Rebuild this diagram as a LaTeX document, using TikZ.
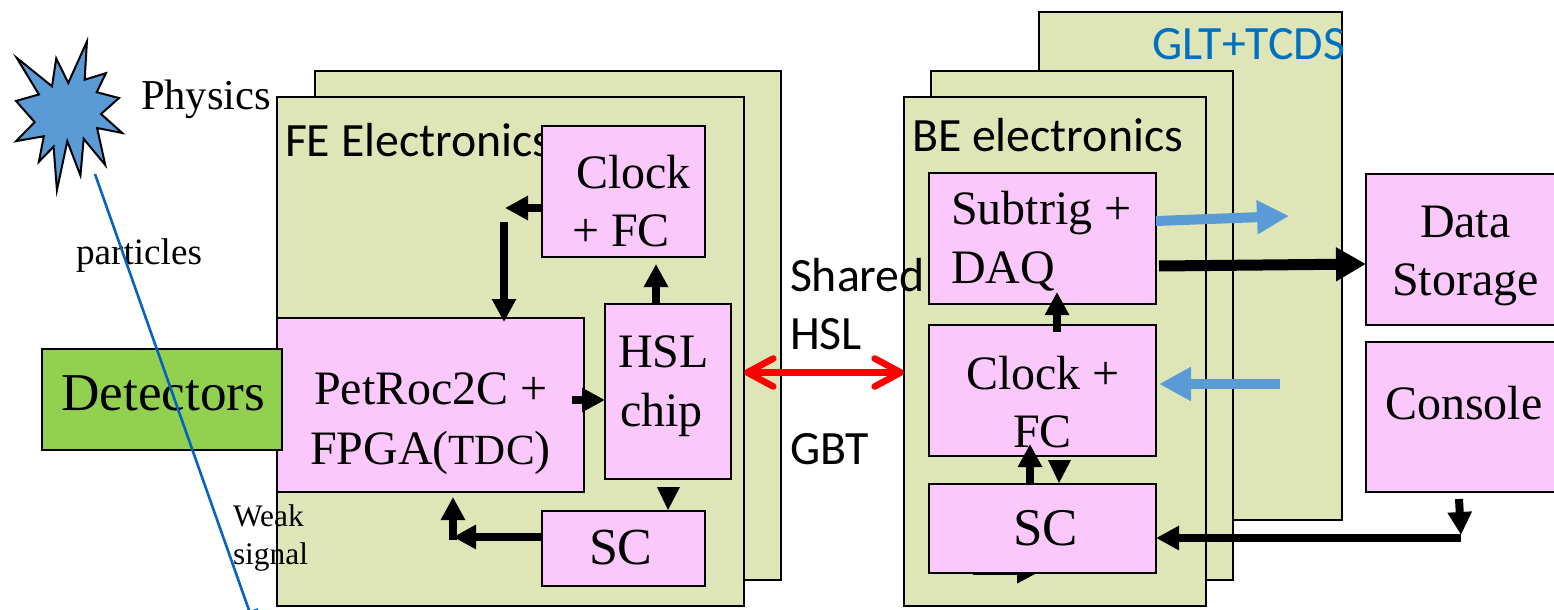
\documentclass[tikz,border=0pt]{standalone}
\usepackage{fontspec}
\setmainfont{Liberation Serif}
\newfontfamily\calfont{Carlito}
\usetikzlibrary{arrows.meta}
\definecolor{panelgreen}{HTML}{DEE6B8}
\definecolor{boxpink}{HTML}{FAC8FA}
\definecolor{detgreen}{HTML}{92D050}
\definecolor{starblue}{HTML}{5B9BD5}
\definecolor{linkblue}{HTML}{0563C1}
\definecolor{titleblue}{HTML}{0070C0}
\newcommand{\pxfont}[1]{\fontsize{#1}{#1}\selectfont}
% name, style, x1, y1, x2, y2
\newcommand{\pbox}[6]{%
  \pgfmathsetmacro{\cx}{(#3+#5)/2}\pgfmathsetmacro{\cy}{(#4+#6)/2}%
  \pgfmathsetmacro{\bw}{(#5-#3)*0.5}\pgfmathsetmacro{\bh}{(#6-#4)*0.5}%
  \node[#2,minimum width=\bw pt,minimum height=\bh pt] (#1) at (\cx,\cy) {};}
\tikzset{
  x=0.5pt,y=-0.5pt,
  outl/.style={draw=black,line width=1pt,inner sep=0pt,outer sep=0pt,rectangle},
  panel/.style={outl,fill=panelgreen},
  pinkbox/.style={outl,fill=boxpink},
  detbox/.style={outl,fill=detgreen},
  txt/.style={inner sep=0pt,outer sep=0pt,align=center,text=black},
  blk/.style={draw=black,line width=4pt,-{Triangle[length=11.5pt,width=11.5pt]}},
  tiponly/.style={fill=black,draw=none},
  bluearr/.style={draw=starblue,line width=5pt,-{Triangle[length=16pt,width=16pt]}},
  bigblk/.style={draw=black,line width=5.5pt,-{Triangle[length=15pt,width=16pt]}},
  redarr/.style={draw=red,line width=3.3pt,{Straight Barb[length=13pt,width=14pt,round]}-{Straight Barb[length=13pt,width=14pt,round]}},
  thin link/.style={draw=linkblue,line width=1.3pt,-{Triangle[length=10pt,width=9pt]}},
}
\begin{document}
\begin{tikzpicture}
\useasboundingbox (0,0) rectangle (1554,610);
\clip (0,0) rectangle (1554,610);
% panels
\pbox{beback}{panel}{1039}{12}{1342}{520}
\pbox{feback}{panel}{315}{71}{781}{580}
\pbox{bemid}{panel}{931}{71}{1233}{580}
\pbox{fe}{panel}{277}{97}{744}{606}
\pbox{be}{panel}{904}{97}{1206}{606}
\node[txt,anchor=base west,font=\calfont\pxfont{23.9}] (glt) at (1152,60) {\textcolor{titleblue}{GLT+TCDS}};
\node[txt,anchor=base west,font=\calfont\pxfont{23.9}] (fet) at (285,156) {FE Electronics};
\node[txt,anchor=base west,font=\calfont\pxfont{23.9}] (bet) at (912,152) {BE electronics};
% arrow hidden below BE SC
\coordinate (hiddenA) at (973,573);
\coordinate (hiddenB) at (1037,573);
\draw[draw=black,line width=2pt,-{Triangle[length=10pt,width=10pt]}] (hiddenA) -- (hiddenB);
% boxes
\pbox{clockfe}{pinkbox}{542}{126}{705}{257}
\pbox{hsl}{pinkbox}{605}{304}{731}{479}
\pbox{pet}{pinkbox}{277}{318}{584}{492}
\pbox{scfe}{pinkbox}{542}{511}{705}{586}
\pbox{det}{detbox}{42}{349}{282}{450}
\pbox{sub}{pinkbox}{929}{173}{1156}{304}
\pbox{clockbe}{pinkbox}{929}{325}{1156}{456}
\pbox{scbe}{pinkbox}{929}{484}{1156}{573}
\pbox{data}{pinkbox}{1366}{174}{1570}{325}
\pbox{cons}{pinkbox}{1366}{342}{1570}{492}
% star
\begin{scope}[shift={(68,115)},scale=0.98,shift={(-68,-115)}]
\draw[fill=starblue,draw=black,line width=1pt] (87.3,40) -- (85,79) -- (106.7,72.3) -- (97.3,91.7) -- (120,97.7) -- (101.7,114) -- (123.3,133.3) -- (97.7,128.3) -- (106,166) -- (84,139.3) -- (80.7,176.7) -- (67.3,141.7) -- (56.7,191.7) -- (53.3,147.3) -- (38.3,162.7) -- (43.3,136.7) -- (15,141.7) -- (34,122.3) -- (15,100.7) -- (38.3,94) -- (15.7,56.7) -- (51.7,85.7) -- (56,57.3) -- (68.3,82.3) -- cycle;
\end{scope}
% texts
\node[txt,anchor=base west,font=\pxfont{21.3}] (physics) at (141,110) {Physics};
\node[txt,anchor=base west,font=\pxfont{18.6}] (particles) at (76,264) {particles};
\node[txt,anchor=base west,font=\pxfont{15.7},align=left] (weak) at (233,526) {Weak};
\node[txt,anchor=base west,font=\pxfont{15.7},align=left] (signal) at (233,564) {signal};
\node[txt,anchor=base west,font=\pxfont{26.6}] (dett) at (61.5,410) {Detectors};
\node[txt,anchor=base west,font=\calfont\pxfont{23.9}] (sh1) at (790,292) {Shared};
\node[txt,anchor=base west,font=\calfont\pxfont{23.9}] (sh2) at (790,349) {HSL};
\node[txt,anchor=base west,font=\calfont\pxfont{23.9}] (gbt) at (790,464) {GBT};
\node[txt,anchor=base west,font=\pxfont{24}] (c1) at (576,188.5) {Clock};
\node[txt,anchor=base west,font=\pxfont{24}] (c2) at (572,246.5) {+ FC};
\node[txt,anchor=base west,font=\pxfont{24}] (p1) at (314,404) {PetRoc2C +};
\node[txt,anchor=base west,font=\pxfont{24}] (p2) at (310,464) {FPGA(\pxfont{21.5}TDC\pxfont{24})};
\node[txt,anchor=base west,font=\pxfont{24}] (h1) at (618,367) {HSL};
\node[txt,anchor=base west,font=\pxfont{24}] (h2) at (620,426) {chip};
\node[txt,anchor=base west,font=\pxfont{26}] (s1) at (589,564) {SC};
\node[txt,anchor=base west,font=\pxfont{24}] (b1) at (951,225) {Subtrig +};
\node[txt,anchor=base west,font=\pxfont{24}] (b2) at (951,284) {DAQ};
\node[txt,anchor=base west,font=\pxfont{24}] (k1) at (966,389) {Clock +};
\node[txt,anchor=base west,font=\pxfont{24}] (k2) at (1013,447) {FC};
\node[txt,anchor=base west,font=\pxfont{26.5}] (s2) at (1013,545) {SC};
\node[txt,anchor=base west,font=\pxfont{24}] (d1) at (1420,237) {Data};
\node[txt,anchor=base west,font=\pxfont{24}] (d2) at (1392,295) {Storage};
\node[txt,anchor=base west,font=\pxfont{24}] (co) at (1385,419) {Console};
% FE connectors
\coordinate (a1) at (542,208); \coordinate (a1e) at (505,208);
\draw[blk] (a1) -- (a1e);
\coordinate (a2) at (504,222); \coordinate (a2e) at (504,322);
\draw[blk] (a2) -- (a2e);
\coordinate (a3) at (572,400); \coordinate (a3e) at (605,400);
\draw[blk] (a3) -- (a3e);
\coordinate (a4) at (656,304); \coordinate (a4e) at (656,264);
\draw[blk] (a4) -- (a4e);
\coordinate (a5) at (668,487); \coordinate (a5e) at (668,510);
\draw[tiponly] (657,487) -- (680,487) -- (a5e) -- cycle;
\coordinate (a6) at (541,537); \coordinate (a6e) at (453,537);
\draw[blk] (a6) -- (a6e);
\coordinate (a7) at (453,540); \coordinate (a7e) at (453,497);
\draw[blk] (a7) -- (a7e);
% red
\coordinate (ra) at (fe.east |- 0,372.5); \coordinate (rb) at (be.west |- 0,372.5);
\draw[redarr] (ra) -- (rb);
% BE connectors
\coordinate (b3) at (1156,221); \coordinate (b3e) at (1289,216);
\draw[bluearr] (b3) -- (b3e);
\coordinate (b4) at (1159,266); \coordinate (b4e) at (1366,264);
\draw[bigblk] (b4) -- (b4e);
\coordinate (b5) at (1280,384); \coordinate (b5e) at (1159,384);
\draw[bluearr] (b5) -- (b5e);
\coordinate (b6) at (1057,332); \coordinate (b6e) at (1057,292);
\draw[blk] (b6) -- (b6e);
\coordinate (b7) at (1030,483); \coordinate (b7e) at (1030,444);
\draw[blk] (b7) -- (b7e);
\coordinate (b8e) at (1059,483);
\draw[tiponly] (1048,460) -- (1071,460) -- (b8e) -- cycle;
\coordinate (b9) at (1459,499); \coordinate (b9e) at (1461,535);
\draw[blk] (b9) -- (b9e);
\coordinate (b10) at (1461,538); \coordinate (b10e) at (1156,538);
\draw[blk] (b10) -- (b10e);
% particle line
\coordinate (l1) at (95,174); \coordinate (l2) at (256,630);
\draw[thin link] (l1) -- (l2);
\end{tikzpicture}
\end{document}
